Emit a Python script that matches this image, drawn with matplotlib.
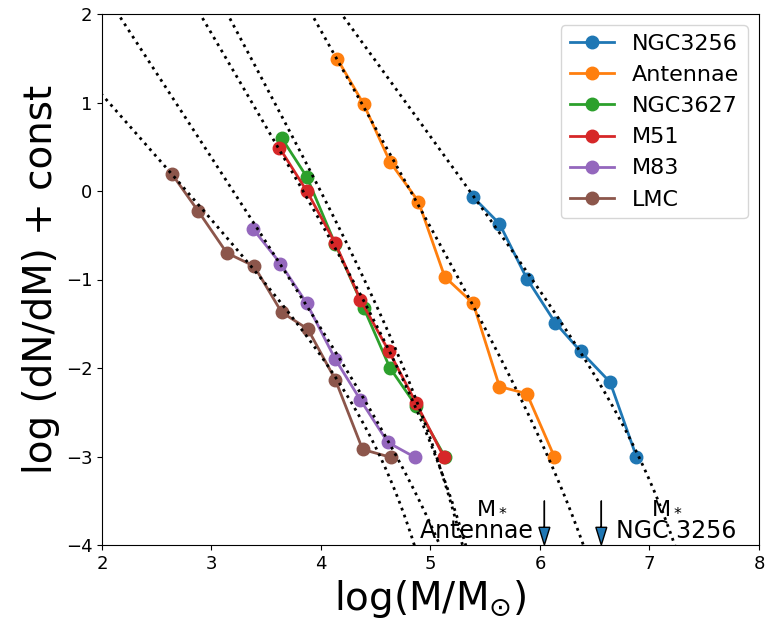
import numpy as np
import matplotlib.pyplot as plt

# cluster mass functions
ngc3256_x = [5.39, 5.63, 5.88, 6.14, 6.37, 6.64, 6.88]
ngc3256_y = [-0.07, -0.37, -0.99, -1.49, -1.81, -2.16, -3.0]

antennae_x = [4.15, 4.39, 4.63, 4.89, 5.13, 5.39, 5.63, 5.88, 6.13]
antennae_y = [1.49, 0.98, 0.33, -0.12, -0.97, -1.27, -2.21, -2.29, -3.0]

ngc3627_x = [3.64, 3.87, 4.13, 4.39, 4.63, 4.87, 5.13]
ngc3627_y = [0.60, 0.16, -0.60, -1.32, -2.0, -2.43, -3.0]

m51_x = [3.62, 3.87, 4.13, 4.36, 4.62, 4.87, 5.12]
m51_y = [0.49, 0.0, -0.59, -1.23, -1.81, -2.40, -3.0]

m83_x = [3.38, 3.63, 3.87, 4.13, 4.36, 4.61, 4.86]
m83_y = [-0.43, -0.82, -1.27, -1.90, -2.36, -2.84, -3.01]

lmc_x = [2.64, 2.88, 3.14, 3.39, 3.64, 3.88, 4.13, 4.38, 4.64]
lmc_y = [0.19, -0.23, -0.70, -0.85, -1.37, -1.56, -2.13, -2.92, -3.01]

# Schechter fits: log dN/dM = norm + beta*logM - M/Mc  (order: LMC, M83, M51, NGC3627, Antennae, NGC3256)
fit_norm = [3.89, 6.08, 8.085, 9.244, 10.613, 9.12]
fit_beta = [-1.4, -1.9, -2.1, -2.3, -2.2, -1.7]
fit_logmc = [4.45, 5.1, 5.0, 4.9, 6.3, 6.95]

# M* markers
mstar_logm = [6.04, 6.56]

fig = plt.figure(figsize=(7.65, 6.31), dpi=100)
ax = fig.add_axes([102/765, 1 - 545/631, 657/765, 531/631])

ax.plot(ngc3256_x, ngc3256_y, 'o-', color='C0', lw=2, ms=9, label='NGC3256')
ax.plot(antennae_x, antennae_y, 'o-', color='C1', lw=2, ms=9, label='Antennae')
ax.plot(ngc3627_x, ngc3627_y, 'o-', color='C2', lw=2, ms=9, label='NGC3627')
ax.plot(m51_x, m51_y, 'o-', color='C3', lw=2, ms=9, label='M51')
ax.plot(m83_x, m83_y, 'o-', color='C4', lw=2, ms=9, label='M83')
ax.plot(lmc_x, lmc_y, 'o-', color='C5', lw=2, ms=9, label='LMC')

logm = np.linspace(1.5, 8.5, 600)
for a, b, lmc in zip(fit_norm, fit_beta, fit_logmc):
    ax.plot(logm, a + b * logm - 10 ** (logm - lmc) / np.log(10), 'k:', lw=2, zorder=5)

for m in mstar_logm:
    ax.arrow(m, -3.5, 0, -0.5, head_width=0.1, head_length=0.2,
             length_includes_head=True, fc='C0', ec='k', zorder=6)

ax.text(5.415, -3.642, 'M$_*$', fontsize=16)
ax.text(4.90, -3.924, 'Antennae', fontsize=17)
ax.text(7.01, -3.642, 'M$_*$', fontsize=16)
ax.text(6.69, -3.924, 'NGC 3256', fontsize=17)

ax.set_xlim(2, 8)
ax.set_ylim(-4, 2)
ax.tick_params(labelsize=13)
ax.set_xlabel('log(M/M$_{\\odot}$)', fontsize=28)
ax.set_ylabel('log (dN/dM) + const', fontsize=28)
ax.legend(loc='upper right', fontsize=16)

fig.savefig('out.png', dpi=100)
